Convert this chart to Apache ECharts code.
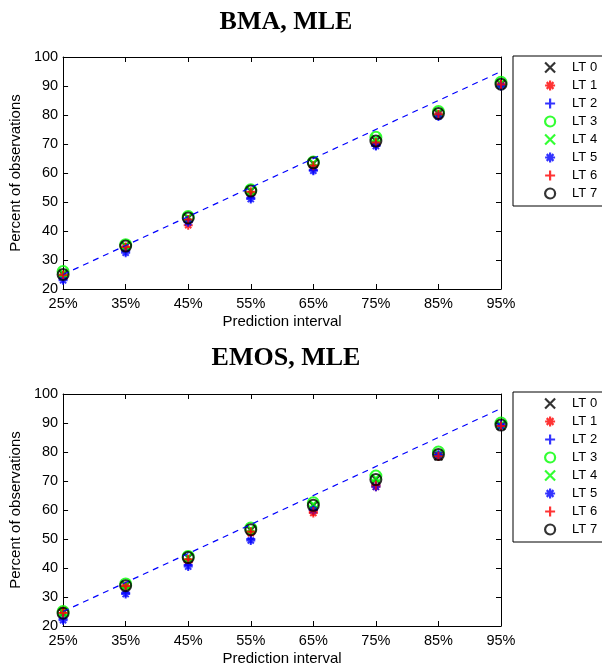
<!DOCTYPE html>
<html><head><meta charset="utf-8">
<script src="https://cdn.jsdelivr.net/npm/echarts@6/dist/echarts.min.js"></script>
<style>html,body{margin:0;padding:0;background:#fff}#c{width:602px;height:668px}</style>
</head><body><div id="c"></div>
<script>
// ---- data ----
const intervals = ['25%', '35%', '45%', '55%', '65%', '75%', '85%', '95%'];
const seriesNames = ['LT 0', 'LT 1', 'LT 2', 'LT 3', 'LT 4', 'LT 5', 'LT 6', 'LT 7'];
const titles = ['BMA, MLE', 'EMOS, MLE'];
const refLineX = ['25%', '95%'];
const refLineY = [25, 95];

// BMA, MLE
const bmaLT0 = [25.0, 34.8, 44.5, 53.8, 63.3, 71.0, 80.5, 90.6];
const bmaLT1 = [24.5, 34.3, 42.0, 52.5, 62.0, 70.0, 80.0, 90.5];
const bmaLT2 = [23.5, 33.0, 43.5, 51.5, 61.0, 69.5, 79.8, 90.3];
const bmaLT3 = [26.0, 35.3, 45.0, 54.2, 63.8, 72.3, 81.2, 91.3];
const bmaLT4 = [25.5, 35.0, 44.8, 54.0, 63.5, 71.8, 81.0, 91.0];
const bmaLT5 = [23.0, 32.5, 43.0, 51.0, 60.8, 69.3, 79.5, 90.0];
const bmaLT6 = [24.8, 34.5, 44.0, 53.5, 62.5, 70.5, 80.3, 90.5];
const bmaLT7 = [25.0, 34.8, 44.5, 53.8, 63.5, 71.0, 80.5, 90.6];

// EMOS, MLE
const emosLT0 = [24.5, 34.0, 43.5, 53.0, 61.5, 70.5, 78.5, 89.0];
const emosLT1 = [25.5, 33.5, 42.0, 52.0, 59.0, 68.0, 78.5, 89.0];
const emosLT2 = [22.5, 31.5, 41.0, 50.0, 60.0, 68.5, 79.0, 89.5];
const emosLT3 = [25.0, 34.5, 44.0, 53.8, 62.5, 71.7, 80.0, 90.0];
const emosLT4 = [24.8, 34.2, 43.8, 53.5, 62.0, 71.0, 79.5, 89.5];
const emosLT5 = [22.0, 31.0, 40.5, 49.5, 60.0, 68.0, 79.0, 89.0];
const emosLT6 = [24.5, 33.8, 43.0, 52.5, 59.5, 68.5, 78.5, 89.0];
const emosLT7 = [24.4, 33.9, 43.6, 53.2, 61.6, 70.5, 79.1, 89.3];

const bmaValues = [bmaLT0, bmaLT1, bmaLT2, bmaLT3, bmaLT4, bmaLT5, bmaLT6, bmaLT7];
const emosValues = [emosLT0, emosLT1, emosLT2, emosLT3, emosLT4, emosLT5, emosLT6, emosLT7];

// ---- styles ----
const SYM_X = 'path://M0,0L10,10M10,0L0,10';
const SYM_STAR = 'path://M5,0L5,10M0,5L10,5M1.6,1.6L8.4,8.4M8.4,1.6L1.6,8.4';
const SYM_PLUS = 'path://M5,0L5,10M0,5L10,5';
const SYM_O = 'circle';
const markerDefs = [
  { sym: SYM_X, color: '#000000', size: 8 },
  { sym: SYM_STAR, color: '#ff0000', size: 9 },
  { sym: SYM_PLUS, color: '#0000ff', size: 9 },
  { sym: SYM_O, color: '#00ff00', size: 11 },
  { sym: SYM_X, color: '#00ff00', size: 8 },
  { sym: SYM_STAR, color: '#0000ff', size: 9 },
  { sym: SYM_PLUS, color: '#ff0000', size: 9 },
  { sym: SYM_O, color: '#000000', size: 11 }
];
const FONT = 'Liberation Sans';

const gridTops = [57, 394];
const legendTops = [56, 392];
const titleTops = [4, 340];

const grids = [], xAxes = [], yAxes = [], series = [], legends = [], titleArr = [];

[bmaValues, emosValues].forEach((vals, g) => {
  grids.push({ left: 62, top: gridTops[g], width: 439, height: 232 });
  titleArr.push({
    text: titles[g], left: 281, textAlign: 'center', top: titleTops[g],
    textStyle: { fontFamily: 'Liberation Serif', fontWeight: 'bold', fontSize: 26, color: '#000' }
  });
  const axLine = { show: true, lineStyle: { color: '#000', width: 1 } };
  xAxes.push({
    type: 'category', gridIndex: g, data: intervals, boundaryGap: false, position: 'bottom',
    axisLine: axLine, axisTick: { inside: true, length: 5, alignWithLabel: true, lineStyle: { color: '#000' } },
    axisLabel: { color: '#000', fontSize: 14.5, fontFamily: FONT, margin: 7 },
    splitLine: { show: false },
    name: 'Prediction interval', nameLocation: 'middle', nameGap: 25,
    nameTextStyle: { color: '#000', fontSize: 15, fontFamily: FONT }
  });
  xAxes.push({
    type: 'category', gridIndex: g, data: intervals, boundaryGap: false, position: 'top',
    axisLine: axLine, axisTick: { inside: true, length: 5, alignWithLabel: true, lineStyle: { color: '#000' } },
    axisLabel: { show: false }, splitLine: { show: false }
  });
  yAxes.push({
    type: 'value', gridIndex: g, min: 20, max: 100, interval: 10, position: 'left',
    axisLine: axLine, axisTick: { show: true, inside: true, length: 5, lineStyle: { color: '#000' } },
    axisLabel: { color: '#000', fontSize: 14.5, fontFamily: FONT, margin: 5 },
    splitLine: { show: false },
    name: 'Percent of observations', nameLocation: 'middle', nameGap: 36,
    nameTextStyle: { color: '#000', fontSize: 15, fontFamily: FONT }
  });
  yAxes.push({
    type: 'value', gridIndex: g, min: 20, max: 100, interval: 10, position: 'right',
    axisLine: axLine, axisTick: { show: true, inside: true, length: 5, lineStyle: { color: '#000' } },
    axisLabel: { show: false }, splitLine: { show: false }
  });

  series.push({
    type: 'line', xAxisIndex: 2 * g, yAxisIndex: 2 * g, silent: true, symbol: 'none',
    data: refLineX.map((x, i) => [intervals.indexOf(x), refLineY[i]]),
    lineStyle: { color: '#0000ff', width: 1.2, type: [6, 5] }
  });

  vals.forEach((arr, k) => {
    const m = markerDefs[k];
    series.push({
      name: seriesNames[k], type: 'scatter', xAxisIndex: 2 * g, yAxisIndex: 2 * g,
      symbol: m.sym, symbolSize: m.size,
      data: arr.map((v, i) => [i, v]),
      itemStyle: { color: 'transparent', borderColor: m.color, borderWidth: 2 },
      emphasis: { disabled: true }
    });
  });

  legends.push({
    orient: 'vertical', left: 513, top: legendTops[g],
    padding: [5, 40, 6, 31], itemWidth: 10, itemHeight: 10, itemGap: 5,
    borderColor: '#000', borderWidth: 1, backgroundColor: '#fff',
    selectedMode: false,
    textStyle: { color: '#000', fontSize: 13, fontFamily: FONT, padding: [0, 0, 0, 12] },
    data: seriesNames.map((n, k) => ({
      name: n, icon: markerDefs[k].sym,
      itemStyle: { color: 'transparent', borderColor: markerDefs[k].color, borderWidth: 2.2 }
    }))
  });
});

const chart = echarts.init(document.getElementById('c'), null, { renderer: 'canvas' });
chart.setOption({
  animation: false,
  backgroundColor: '#fff',
  title: titleArr,
  grid: grids,
  xAxis: xAxes,
  yAxis: yAxes,
  legend: legends,
  series: series
});
</script>
</body></html>
